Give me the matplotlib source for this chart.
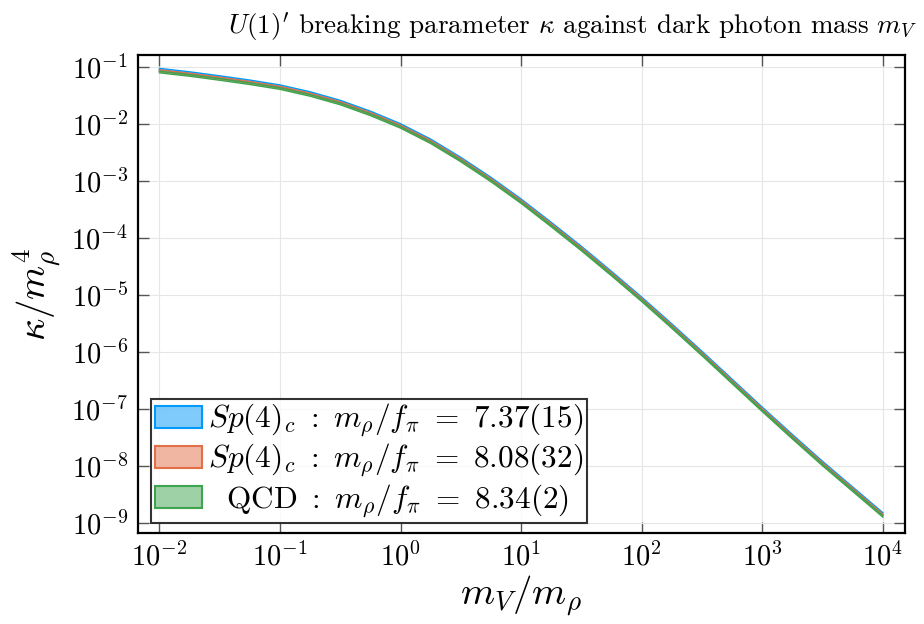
import numpy as np
import matplotlib
matplotlib.use('Agg')
import matplotlib.pyplot as plt
from matplotlib.patches import Patch

plt.rcParams['font.family'] = 'serif'
plt.rcParams['font.serif'] = ['cmr10']
plt.rcParams['mathtext.fontset'] = 'cm'
plt.rcParams['axes.unicode_minus'] = False
plt.rcParams['axes.formatter.use_mathtext'] = True

# m_V / m_rho sample points (log10) and kappa / m_rho^4 (log10)
log_x = [-2.0, -1.75, -1.5, -1.25, -1.0, -0.75, -0.5, -0.25, 0.0, 0.25, 0.5, 0.75,
         1.0, 1.25, 1.5, 1.75, 2.0, 2.25, 2.5, 2.75, 3.0, 3.25, 3.5, 3.75, 4.0]
log_y_sp4_a = [-1.04, -1.10, -1.17, -1.245, -1.33, -1.45, -1.60, -1.79, -2.01, -2.28, -2.60, -2.95,
               -3.33, -3.74, -4.16, -4.60, -5.05, -5.52, -6.00, -6.49, -6.98, -7.46, -7.93, -8.38, -8.83]
log_y_sp4_b = [-1.065, -1.125, -1.195, -1.27, -1.355, -1.475, -1.625, -1.815, -2.035, -2.305, -2.625, -2.975,
               -3.355, -3.765, -4.185, -4.625, -5.075, -5.545, -6.025, -6.515, -7.005, -7.485, -7.955, -8.405, -8.855]
log_y_qcd = [-1.09, -1.15, -1.22, -1.295, -1.38, -1.50, -1.65, -1.84, -2.06, -2.33, -2.65, -3.00,
             -3.38, -3.79, -4.21, -4.65, -5.10, -5.57, -6.05, -6.54, -7.03, -7.51, -7.98, -8.43, -8.88]
band = 0.014  # half width of the error band in decades

labels = [r'$Sp(4)_c\ :\ m_\rho/f_\pi\ =\ 7.37(15)$',
          r'$Sp(4)_c\ :\ m_\rho/f_\pi\ =\ 8.08(32)$',
          r'$\ \ \mathrm{QCD}\ :\ m_\rho/f_\pi\ =\ 8.34(2)$']
colors = ['#009AFA', '#E36F47', '#3EA44E']

fig = plt.figure(figsize=(9.24, 6.24), dpi=100)
ax = fig.add_axes([0.149, 0.146, 0.830, 0.766])

x = 10 ** np.array(log_x)
for ly, c in zip([log_y_sp4_a, log_y_sp4_b, log_y_qcd], colors):
    ly = np.array(ly)
    lo, hi = 10 ** (ly - band), 10 ** (ly + band)
    ax.fill_between(x, lo, hi, facecolor=c, alpha=0.5, edgecolor='none')
    ax.plot(x, lo, color=c, linewidth=1.0)
    ax.plot(x, hi, color=c, linewidth=1.0)

handles = [Patch(facecolor=matplotlib.colors.to_rgba(c, 0.5), edgecolor=c, linewidth=1.5)
           for c in colors]

ax.set_xscale('log')
ax.set_yscale('log')
ax.set_xlim(10 ** -2.18, 10 ** 4.18)
ax.set_ylim(10 ** -9.17, 10 ** -0.79)
ax.set_xticks([1e-2, 1e-1, 1e0, 1e1, 1e2, 1e3, 1e4])
ax.set_yticks([10.0 ** k for k in range(-9, 0)])
ax.minorticks_off()
ax.tick_params(direction='in', length=8, width=1, color='#555555', labelsize=20.5,
               top=True, right=True, pad=7)
ax.grid(True, color='#e6e6e6', linewidth=0.8)
ax.set_axisbelow(True)
for s in ax.spines.values():
    s.set_linewidth(1.6)

ax.set_xlabel(r'$m_V/m_\rho$', fontsize=28, labelpad=1)
ax.set_ylabel(r'$\kappa/m_\rho^4$', fontsize=28, labelpad=6)
fig.text(0.620, 0.957, r"$U(1)'$ breaking parameter $\kappa$ against dark photon mass $m_V$",
         ha='center', va='center', fontsize=19.5)

leg = ax.legend(handles, labels, loc='lower left', bbox_to_anchor=(0.018, 0.02),
                fontsize=22.5, frameon=True, fancybox=False, edgecolor='black',
                borderpad=0.12, labelspacing=0.1, handlelength=1.5, handletextpad=0.2,
                borderaxespad=0)
leg.get_frame().set_linewidth(1.5)

fig.savefig('out.png', dpi=100)
